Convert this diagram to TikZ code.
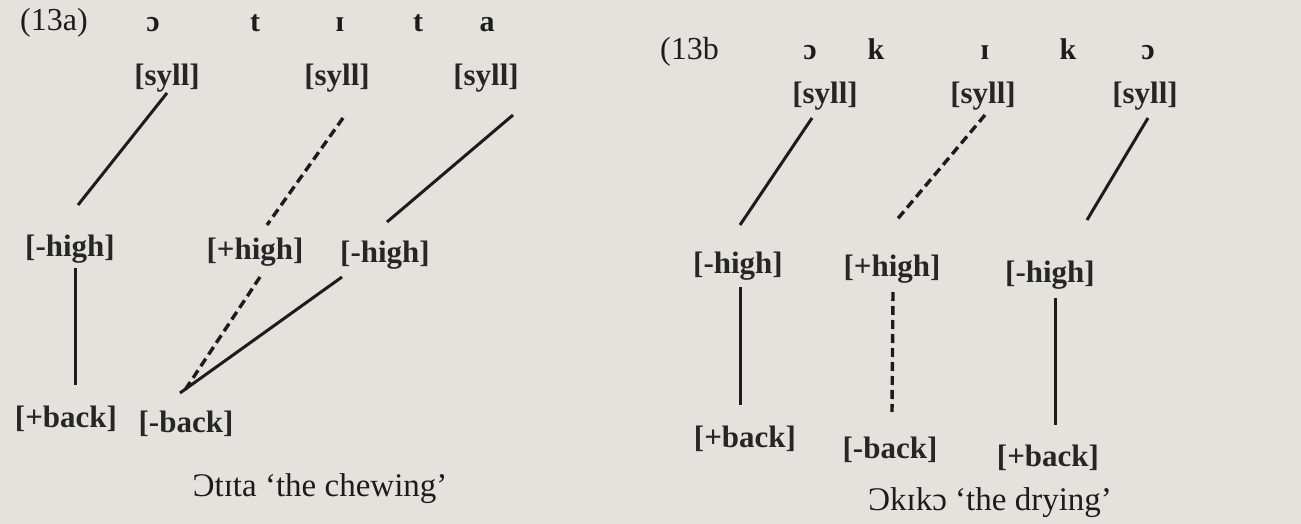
\documentclass[tikz,border=0pt]{standalone}
\usepackage{fontspec}
\setmainfont{Liberation Serif}
\usetikzlibrary{calc}
\definecolor{paper}{HTML}{E3E2DD}
\definecolor{ink}{HTML}{1C1C1C}
\definecolor{labink}{HTML}{262626}
\begin{document}
\begin{tikzpicture}[x=1pt,y=-1pt,
  lab/.style={anchor=base,inner sep=0pt,text=labink,font=\fontsize{31}{35}\selectfont\bfseries},
  seg/.style={anchor=base,inner sep=0pt,text=ink,font=\fontsize{30}{34}\selectfont\bfseries},
  num/.style={anchor=base west,inner sep=0pt,text=ink,font=\fontsize{32}{36}\selectfont},
  captext/.style={anchor=base,inner sep=0pt,text=ink,font=\fontsize{33}{37}\selectfont},
  assoc/.style={draw=ink,line width=3pt},
  deassoc/.style={draw=ink,line width=3.4pt,dash pattern=on 9pt off 5pt}]
\fill[paper] (0,0) rectangle (1301,524);
\useasboundingbox (0,0) rectangle (1301,524);

% ---------- (13a) ----------
\node[num] (na) at (20,31) {(13a)};
\node[seg] (a1) at (153,32) {ɔ};
\node[seg] (a2) at (255,32) {t};
\node[seg] (a3) at (340,32) {ɪ};
\node[seg] (a4) at (418,32) {t};
\node[seg] (a5) at (487,32) {a};
\node[lab] (as1) at (167,86) {[syll]};
\node[lab] (as2) at (337,86) {[syll]};
\node[lab] (as3) at (486,86) {[syll]};
\node[lab] (ah1) at (70,256) {[-high]};
\node[lab] (ahp) at (255,259) {[+high]};
\node[lab] (ah2) at (385,262) {[-high]};
\node[lab] (ab1) at (66,427) {[+back]};
\node[lab] (abm) at (186,432) {[-back]};
\node[captext] (acap) at (320,496) {Ɔtɪta ‘the chewing’};

\draw[assoc] ($(as1.base)+(0,7)$) -- ($(ah1.base)+(8,-51)$);
\draw[assoc] ($(ah1.base)+(5,12)$) -- ($(ab1.base)+(9,-42)$);
\draw[deassoc] ($(as2.base)+(6,32)$) -- ($(ahp.base)+(12,-34)$);
\draw[deassoc] ($(ahp.base)+(5,18)$) -- ($(abm.base)+(-1,-42)$);
\draw[assoc] ($(as3.base)+(27,29)$) -- ($(ah2.base)+(2,-40)$);
\draw[assoc] ($(ah2.base)+(-43,15)$) -- ($(abm.base)+(-6,-39)$);

% ---------- (13b) ----------
\node[num] (nb) at (660,60) {(13b};
\node[seg] (b1) at (810,60) {ɔ};
\node[seg] (b2) at (876,60) {k};
\node[seg] (b3) at (985,60) {ɪ};
\node[seg] (b4) at (1068,60) {k};
\node[seg] (b5) at (1148,60) {ɔ};
\node[lab] (bs1) at (825,104) {[syll]};
\node[lab] (bs2) at (983,104) {[syll]};
\node[lab] (bs3) at (1145,104) {[syll]};
\node[lab] (bh1) at (738,273) {[-high]};
\node[lab] (bhp) at (892,276) {[+high]};
\node[lab] (bh3) at (1050,282) {[-high]};
\node[lab] (bb1) at (745,447) {[+back]};
\node[lab] (bbm) at (890,458) {[-back]};
\node[lab] (bb3) at (1048,466) {[+back]};
\node[captext] (bcap) at (990,510) {Ɔkɪkɔ ‘the drying’};

\draw[assoc] ($(bs1.base)+(-13,14)$) -- ($(bh1.base)+(2,-48)$);
\draw[deassoc] ($(bs2.base)+(2,11)$) -- ($(bhp.base)+(3,-54)$);
\draw[assoc] ($(bs3.base)+(3,14)$) -- ($(bh3.base)+(37,-62)$);
\draw[assoc] ($(bh1.base)+(2,14)$) -- ($(bb1.base)+(-5,-42)$);
\draw[deassoc] ($(bhp.base)+(1,16)$) -- ($(bbm.base)+(2,-46)$);
\draw[assoc] ($(bh3.base)+(5,16)$) -- ($(bb3.base)+(7,-41)$);
\end{tikzpicture}
\end{document}
